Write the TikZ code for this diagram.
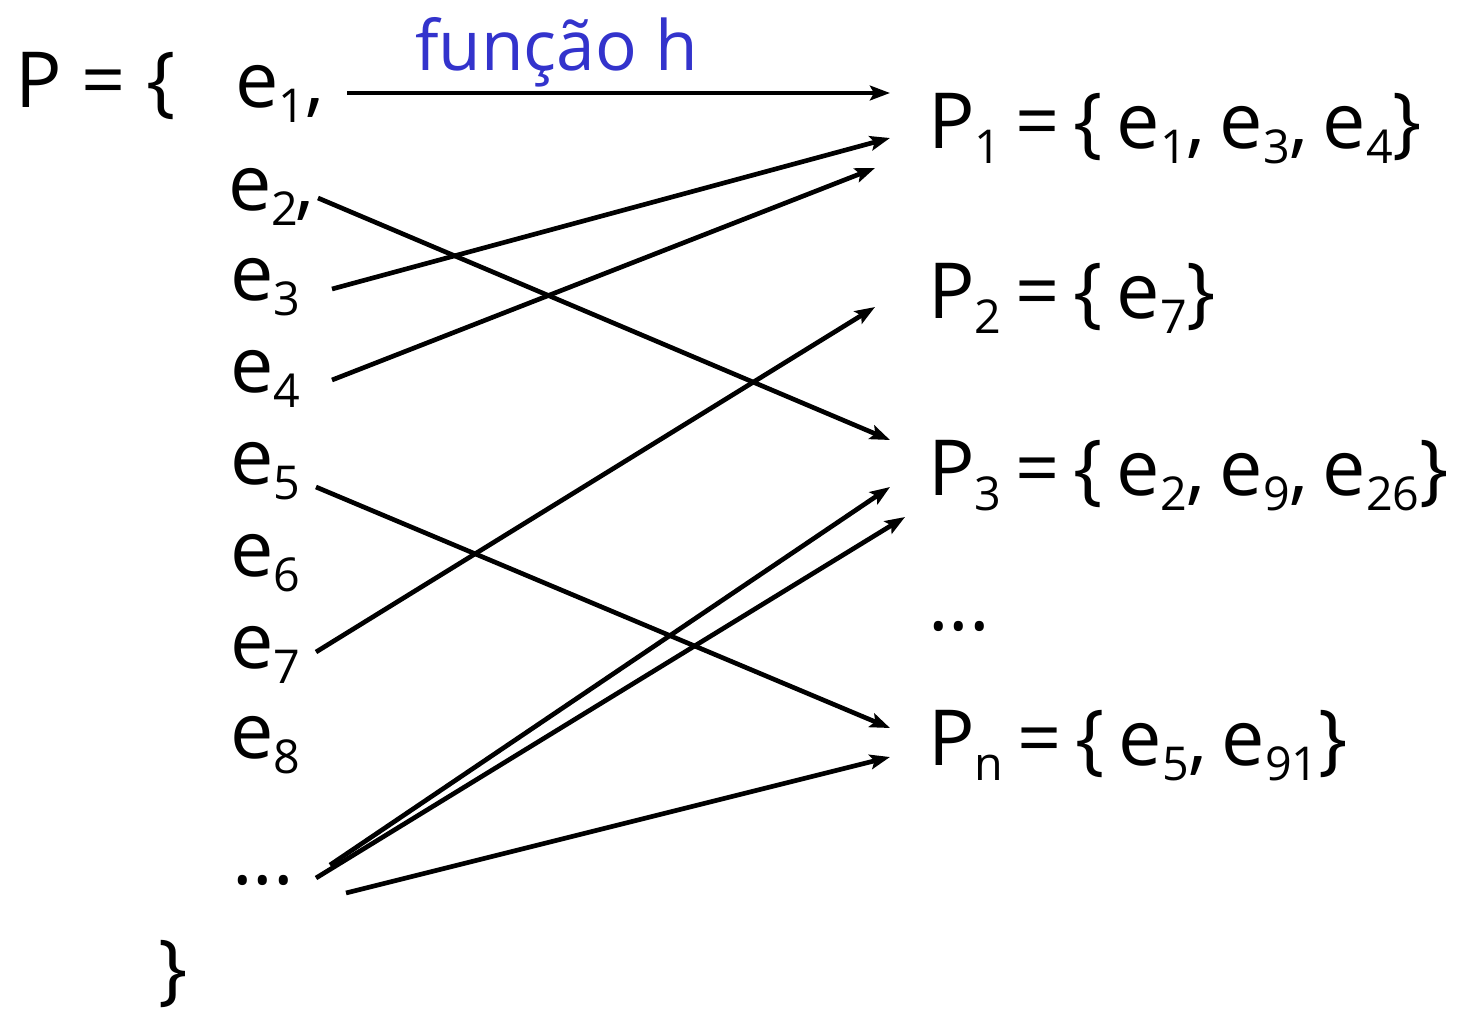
\documentclass[tikz,border=0pt]{standalone}
\usepackage{fontspec}
\setmainfont{Open Sans}
\usetikzlibrary{arrows.meta}
\definecolor{fblue}{RGB}{51,51,204}
\newcommand{\sbx}[1]{\raisebox{-0.2em}{\fontsize{35}{40}\selectfont #1}}
\newcommand{\tsp}{\hspace{0.18em}}
\tikzset{
  txt/.style={anchor=base west, inner sep=0pt, font=\fontsize{58}{66}\selectfont},
  arr/.style={line width=3.5pt, -{Stealth[length=15pt,width=11pt,inset=3pt]}}
}
\begin{document}
\begin{tikzpicture}[x=0.75pt,y=-0.75pt]
\useasboundingbox (0,0) rectangle (1476,1015);
% left set
\node[txt] (P) at (15,107) {P = \{};
\node[txt] (e1) at (235,107) {e\sbx{1},};
\node[txt] (e2) at (228,210) {e\sbx{2}\hspace{-0.04em},};
\node[txt] (e3) at (230,300) {e\sbx{3}};
\node[txt] (e4) at (230,392) {e\sbx{4}};
\node[txt] (e5) at (230,484) {e\sbx{5}};
\node[txt] (e6) at (230,576) {e\sbx{6}};
\node[txt] (e7) at (230,668) {e\sbx{7}};
\node[txt] (e8) at (230,758) {e\sbx{8}};
\node[txt] (edots) at (232,884) {...};
\node[txt] (close) at (158,995) {\}};
% title
\node[txt, text=fblue, font=\fontsize{52}{60}\selectfont] (fh) at (415,70) {função h};
% right sets
\node[txt] (P1) at (928,148) {P\sbx{1}\tsp=\tsp\{\tsp e\sbx{1},\tsp e\sbx{3},\tsp e\sbx{4}\}};
\node[txt] (P2) at (928,318) {P\sbx{2}\tsp=\tsp\{\tsp e\sbx{7}\}};
\node[txt] (P3) at (928,495) {P\sbx{3}\tsp=\tsp\{\tsp e\sbx{2},\tsp e\sbx{9},\tsp e\sbx{26}\}};
\node[txt] (pdots) at (928,630) {...};
\node[txt] (Pn) at (928,765) {P\sbx{n}\tsp=\tsp\{\tsp e\sbx{5},\tsp e\sbx{91}\}};
% connector endpoints
\coordinate (s1) at (347,93);   \coordinate (t1) at (890,93);
\coordinate (s2) at (332,289);  \coordinate (t2) at (890,138);
\coordinate (s3) at (332,380);  \coordinate (t3) at (875,168);
\coordinate (s4) at (318,198);  \coordinate (t4) at (890,440);
\coordinate (s5) at (316,652);  \coordinate (t5) at (875,307);
\coordinate (s6) at (316,487);  \coordinate (t6) at (890,728);
\coordinate (s7) at (330,865);  \coordinate (t7) at (890,487);
\coordinate (s8) at (316,878);  \coordinate (t8) at (905,517);
\coordinate (s9) at (346,893);  \coordinate (t9) at (890,757);
\foreach \i in {1,...,9} { \draw[arr] (s\i) -- (t\i); }
\end{tikzpicture}
\end{document}
